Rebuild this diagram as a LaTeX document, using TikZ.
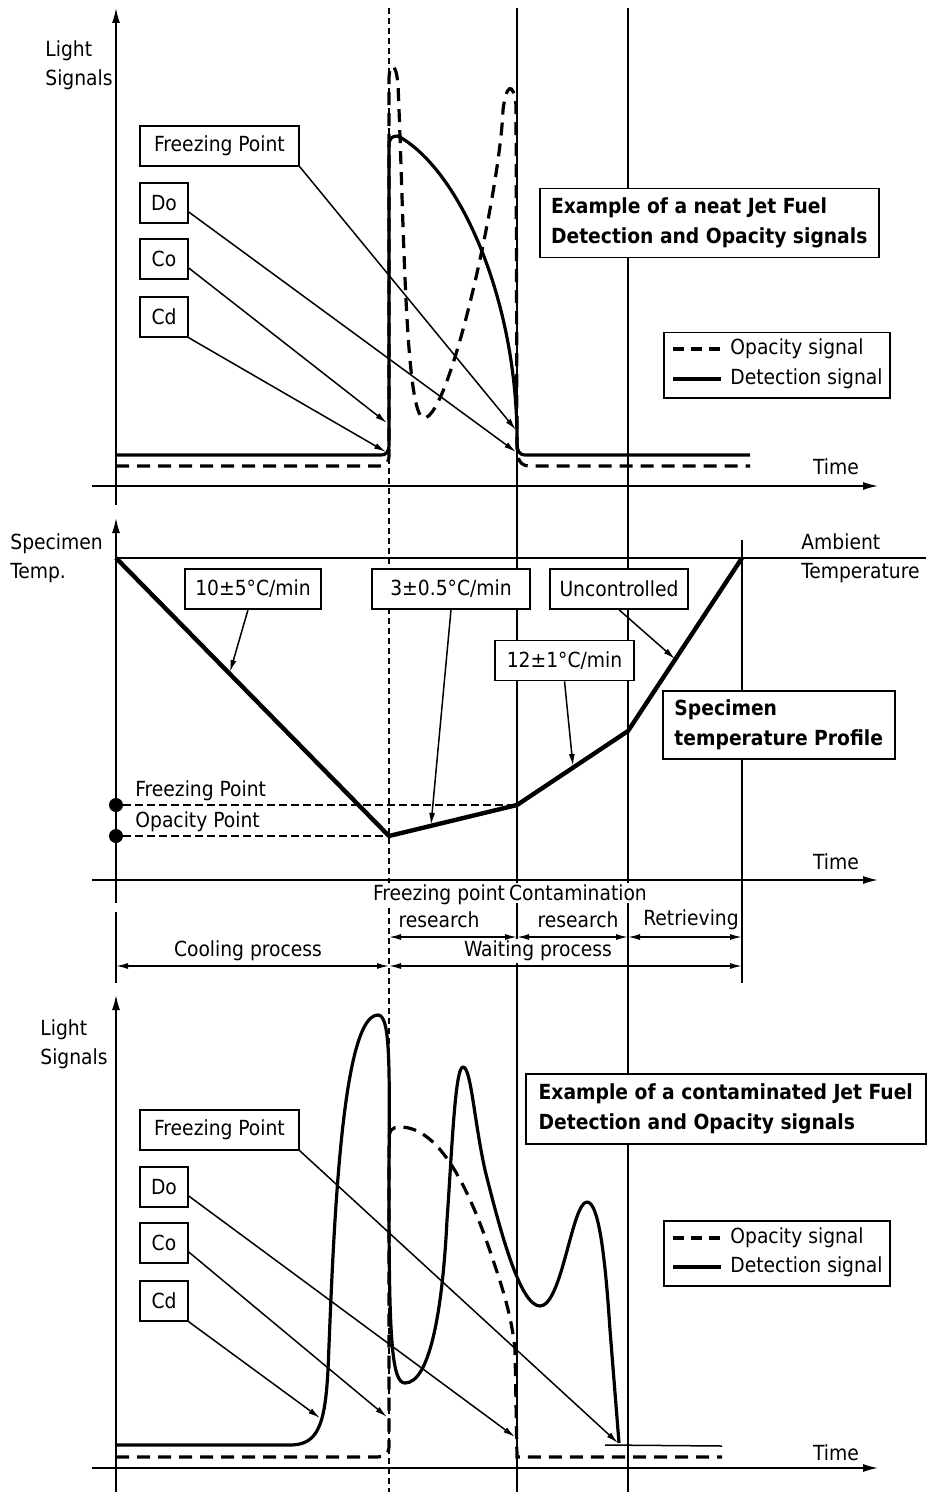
\documentclass[tikz,border=0pt]{standalone}
\usepackage{fontspec}
\setmainfont{DejaVu Sans Condensed}
\usetikzlibrary{arrows.meta}

\begin{document}
\begin{tikzpicture}[x=0.5pt,y=-0.5pt,
  every node/.style={font=\fontsize{10.4}{14.5}\selectfont,inner sep=0pt},
  guide/.style={line width=0.75pt},
  freezeline/.style={line width=0.75pt,dash pattern=on 3pt off 2pt},
  levelline/.style={line width=0.75pt,dash pattern=on 4pt off 2pt},
  axisline/.style={line width=0.75pt,-{Latex[length=7.5pt,width=4pt]}},
  detect/.style={line width=1.6pt,line join=round},
  opac/.style={line width=1.6pt,dash pattern=on 6.5pt off 4pt},
  profile/.style={line width=2.2pt,line join=round},
  tag/.style={draw,line width=0.75pt,fill=white,minimum height=20pt},
  headbox/.style={draw,line width=0.75pt,fill=white,align=left,anchor=north west,font=\fontsize{10.4}{15}\selectfont\bfseries},
  keybox/.style={draw,line width=0.75pt,fill=white,anchor=north west,minimum width=113pt,minimum height=32.5pt},
  pointer/.style={line width=0.75pt,-{Latex[length=6pt,width=3pt]}},
  dimline/.style={line width=0.75pt,{Latex[length=6pt,width=3pt]}-{Latex[length=6pt,width=3pt]}},
  whiteout/.style={fill=white,inner sep=1pt},
  dot/.style={circle,fill,minimum size=7pt}]
% Frame
\useasboundingbox (0,0) rectangle (926,1492);
% Coordinates
\coordinate (x-start) at (116,0);
\coordinate (x-freeze) at (389,0);
\coordinate (x-contam) at (517,0);
\coordinate (x-retr) at (628,0);
\coordinate (x-end) at (742,0);
\coordinate (row-sub) at (0,937);
\coordinate (row-main) at (0,966);
% Phase lines
\draw[freezeline] (389,8) -- (389,1492);
\draw[guide] (517,8) -- (517,1492);
\draw[guide] (628,8) -- (628,1492);
\draw[guide] (742,540) -- (742,983);
% Axes
\draw[axisline] (116,505) -- (116,8);
\draw[axisline] (92,486) -- (878,486);
\draw[axisline] (116,903) -- (116,518);
\draw[guide] (116,912) -- (116,983);
\draw[axisline] (92,880) -- (878,880);
\draw[axisline] (116,1492) -- (116,995);
\draw[axisline] (92,1468) -- (878,1468);
% Axis labels
\node[align=left,anchor=west] (sig-top) at (45,65) {Light\\Signals};
\node (time-top) at (836,467) {Time};
\node[align=left,anchor=west] (temp-lbl) at (10,558) {Specimen\\Temp.};
\node[align=left,anchor=west] (amb-lbl) at (801,558) {Ambient\\Temperature};
\node (time-mid) at (836,862) {Time};
\node[align=left,anchor=west] (sig-bot) at (40,1044) {Light\\Signals};
\node (time-bot) at (836,1453) {Time};

% Neat fuel: signals
\draw[detect] (116,455) -- (380,455) .. controls (387,455) and (389,452) .. (389,444) -- (389,146)
  .. controls (389,138) and (392,136) .. (398,136) .. controls (460,170) and (517,300) .. (517,440)
  .. controls (517,452) and (519,455) .. (526,455) -- (750,455);
\draw[opac] (116,466) -- (378,466) .. controls (386,466) and (389,463) .. (389,455) -- (389,80)
  .. controls (389,62) and (396,60) .. (398,85) .. controls (404,220) and (405,418) .. (424,418)
  .. controls (450,418) and (500,190) .. (503,110) .. controls (506,85) and (513,80) .. (516,105)
  -- (517,445) .. controls (517,460) and (520,466) .. (530,466) -- (750,466);
% Neat fuel: markers
\node[tag,minimum width=79.5pt] (fp-top) at (219.5,146) {Freezing Point};
\node[tag,minimum width=24pt] (do-top) at (164,203) {Do};
\node[tag,minimum width=24pt] (co-top) at (164,259) {Co};
\node[tag,minimum width=24pt] (cd-top) at (164,317) {Cd};
\coordinate (fp-top-end) at (516,430);
\coordinate (do-top-end) at (516,452);
\coordinate (co-top-end) at (387,423);
\coordinate (cd-top-end) at (386,452);
\draw[pointer] (fp-top.south east) -- (fp-top-end);
\draw[pointer] (do-top.-20) -- (do-top-end);
\draw[pointer] (co-top.-20) -- (co-top-end);
\draw[pointer] (cd-top.south east) -- (cd-top-end);
\node[headbox,minimum width=169.5pt,minimum height=34.5pt] (neat-title) at (539,188) {Example of a neat Jet Fuel\\Detection and Opacity signals};
% Neat fuel: legend
\node[keybox] (key-top) at (663,332) {};
\draw[opac,dash pattern=on 5.5pt off 3.5pt] (673,349) -- (721,349);
\draw[detect] (673,379) -- (721,379);
\node[anchor=west] (opac-txt-top) at (730,349) {Opacity signal};
\node[anchor=west] (det-txt-top) at (730,379) {Detection signal};

% Temperature profile
\coordinate (amb-start) at (116,558);
\coordinate (amb-right) at (926,558);
\coordinate (opac-pt) at (389,836);
\coordinate (freeze-pt) at (517,805);
\coordinate (contam-pt) at (628,731);
\coordinate (amb-end) at (742,558);
\draw[guide] (amb-start) -- (amb-right);
\node[dot] (fp-dot) at (116,805) {};
\node[dot] (op-dot) at (116,836) {};
\draw[levelline] (fp-dot) -- (freeze-pt);
\draw[levelline] (op-dot) -- (opac-pt);
\draw[profile] (amb-start) -- (opac-pt) -- (freeze-pt) -- (contam-pt) -- (amb-end);
\node[anchor=west] (fp-lbl) at (135,791) {Freezing Point};
\node[anchor=west] (op-lbl) at (135,822) {Opacity Point};
% Rates
\node[tag,minimum width=68pt] (rate-cool) at (253,589) {10±5°C/min};
\node[tag,minimum width=79pt] (rate-freeze) at (451,589) {3±0.5°C/min};
\node[tag,minimum width=69pt] (rate-free) at (619,589) {Uncontrolled};
\node[tag,minimum width=69.5pt] (rate-contam) at (564.5,660.5) {12±1°C/min};
\coordinate (cool-end) at (230,672);
\coordinate (freeze-end) at (431,825);
\coordinate (free-end) at (675,659);
\coordinate (contam-end) at (573,766);
\draw[pointer] ([xshift=-2.5pt]rate-cool.south) -- (cool-end);
\draw[pointer] (rate-freeze.south) -- (freeze-end);
\draw[pointer] (rate-free.south) -- (free-end);
\draw[pointer] (rate-contam.south) -- (contam-end);
\node[headbox,minimum width=116pt,minimum height=34pt] (profile-title) at (662,690) {Specimen\\temperature Profile};

% Phases
\node[whiteout] (fpr-1) at (439,895) {Freezing point};
\node (fpr-2) at (439,920) {research};
\node[whiteout] (cr-1) at (578,893) {Contamination};
\node (cr-2) at (578,920) {research};
\node (retr) at (691,920) {Retrieving};
\node[whiteout] (waiting) at (538,951) {Waiting process};
\node (cooling) at (248,951) {Cooling process};
\draw[dimline] (x-freeze |- row-sub) -- (x-contam |- row-sub);
\draw[dimline] (x-contam |- row-sub) -- (x-retr |- row-sub);
\draw[dimline] (x-retr |- row-sub) -- (x-end |- row-sub);
\draw[dimline] (x-start |- row-main) -- (x-freeze |- row-main);
\draw[dimline] (x-freeze |- row-main) -- (x-end |- row-main);

% Contaminated fuel: signals
\draw[detect] (116,1445) -- (290,1445) .. controls (318,1445) and (325,1425) .. (328,1370)
  .. controls (333,1250) and (340,1015) .. (378,1015) .. controls (392,1015) and (389,1080) .. (389,1200)
  .. controls (389,1340) and (392,1383) .. (405,1383) .. controls (428,1383) and (442,1320) .. (447,1220)
  .. controls (452,1150) and (455,1067) .. (463,1067) .. controls (471,1067) and (474,1120) .. (485,1170)
  .. controls (500,1230) and (520,1306) .. (540,1306) .. controls (562,1306) and (572,1202) .. (587,1202)
  .. controls (600,1202) and (606,1270) .. (610,1330) -- (619,1443);
\draw[guide] (605,1445) -- (722,1446);
\draw[opac] (116,1457) -- (375,1457) .. controls (385,1457) and (389,1454) .. (389,1446) -- (389,1140)
  .. controls (389,1130) and (392,1127) .. (400,1127) .. controls (440,1127) and (470,1190) .. (493,1260)
  .. controls (505,1295) and (512,1320) .. (515,1350) -- (517,1457) -- (722,1457);
% Contaminated fuel: markers
\node[tag,minimum width=79.5pt] (fp-bot) at (219.5,1130) {Freezing Point};
\node[tag,minimum width=24pt] (do-bot) at (164,1187) {Do};
\node[tag,minimum width=24pt] (co-bot) at (164,1243) {Co};
\node[tag,minimum width=24pt] (cd-bot) at (164,1301) {Cd};
\coordinate (fp-bot-end) at (618,1443);
\coordinate (do-bot-end) at (515,1437);
\coordinate (co-bot-end) at (387,1417);
\coordinate (cd-bot-end) at (320,1418);
\draw[pointer] (fp-bot.south east) -- (fp-bot-end);
\draw[pointer] (do-bot.-20) -- (do-bot-end);
\draw[pointer] (co-bot.-20) -- (co-bot-end);
\draw[pointer] (cd-bot.south east) -- (cd-bot-end);
\node[headbox,minimum width=200pt,minimum height=35pt] (cont-title) at (525,1073) {Example of a contaminated Jet Fuel\\Detection and Opacity signals};
% Contaminated fuel: legend
\node[keybox] (key-bot) at (663,1220) {};
\draw[opac,dash pattern=on 5.5pt off 3.5pt] (673,1238) -- (721,1238);
\draw[detect] (673,1267) -- (721,1267);
\node[anchor=west] (opac-txt-bot) at (730,1238) {Opacity signal};
\node[anchor=west] (det-txt-bot) at (730,1267) {Detection signal};
\end{tikzpicture}
\end{document}
